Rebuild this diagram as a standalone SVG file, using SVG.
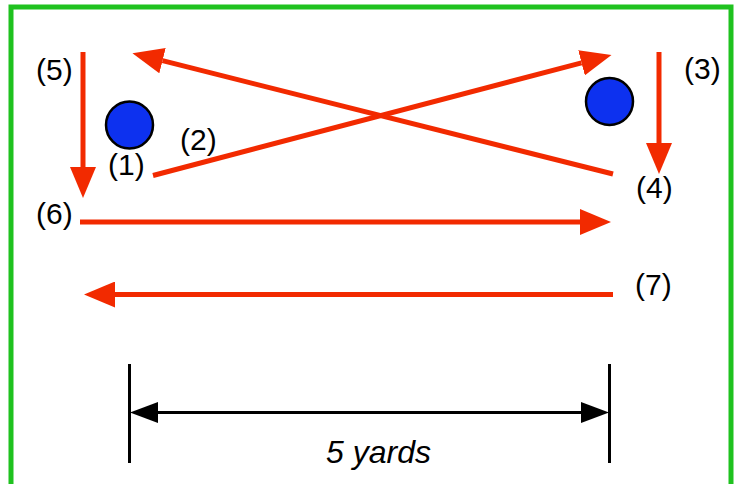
<svg xmlns="http://www.w3.org/2000/svg" width="737" height="484" viewBox="0 0 737 484">
  <style>
    .run { stroke: #f22a00; stroke-width: 5; fill: none; marker-end: url(#redHead); }
    .lbl { font-family: "Liberation Sans", Arial, sans-serif; font-size: 30px; fill: #000; }
    .cone { fill: #0d31ef; stroke: #000; stroke-width: 2.5; }
    .dim { stroke: #000; stroke-width: 3; fill: none; }
  </style>
  <defs>
    <marker id="redHead" markerUnits="userSpaceOnUse" viewBox="0 -13 32 26" refX="0" refY="0" markerWidth="32" markerHeight="26" orient="auto">
      <path d="M0,-13 L31,0 L0,13 z" fill="#f22a00"/>
    </marker>
    <marker id="blackHead" markerUnits="userSpaceOnUse" viewBox="0 -11 29 22" refX="0" refY="0" markerWidth="29" markerHeight="22" orient="auto-start-reverse">
      <path d="M0,-10.5 L28,0 L0,10.5 z" fill="#000"/>
    </marker>
  </defs>
  <rect x="0" y="0" width="737" height="484" fill="#fff"/>
  <rect id="field" x="11" y="7" width="720" height="500" fill="none" stroke="#1fc21f" stroke-width="5"/>

  <g id="cone1"><circle class="cone" cx="129.5" cy="125" r="23.5"/></g>
  <g id="cone2"><circle class="cone" cx="609.5" cy="101.5" r="23.5"/></g>

  <g id="connectors">
    <line class="run" x1="83" y1="52" x2="83" y2="167"/>
    <line class="run" x1="659" y1="52" x2="659" y2="143"/>
    <line class="run" x1="153" y1="175.5" x2="581.5" y2="62.8"/>
    <line class="run" x1="613" y1="174" x2="162.5" y2="60.7"/>
    <line class="run" x1="80" y1="222" x2="580" y2="222"/>
    <line class="run" x1="613" y1="294.5" x2="115" y2="294.5"/>
  </g>

  <g id="dimension">
    <line class="dim" x1="129.5" y1="364" x2="129.5" y2="463"/>
    <line class="dim" x1="609.5" y1="364" x2="609.5" y2="463"/>
    <line class="dim" x1="158" y1="412.5" x2="581" y2="412.5" marker-start="url(#blackHead)" marker-end="url(#blackHead)"/>
    <text x="378.5" y="463" text-anchor="middle" font-family="Liberation Sans, Arial, sans-serif" font-size="32" font-style="italic">5 yards</text>
  </g>

  <g id="label1"><text class="lbl" x="108" y="175">(1)</text></g>
  <g id="label2"><text class="lbl" x="180" y="150">(2)</text></g>
  <g id="label3"><text class="lbl" x="684" y="79">(3)</text></g>
  <g id="label4"><text class="lbl" x="636" y="198">(4)</text></g>
  <g id="label5"><text class="lbl" x="36" y="80">(5)</text></g>
  <g id="label6"><text class="lbl" x="36" y="224">(6)</text></g>
  <g id="label7"><text class="lbl" x="635" y="295">(7)</text></g>
</svg>
